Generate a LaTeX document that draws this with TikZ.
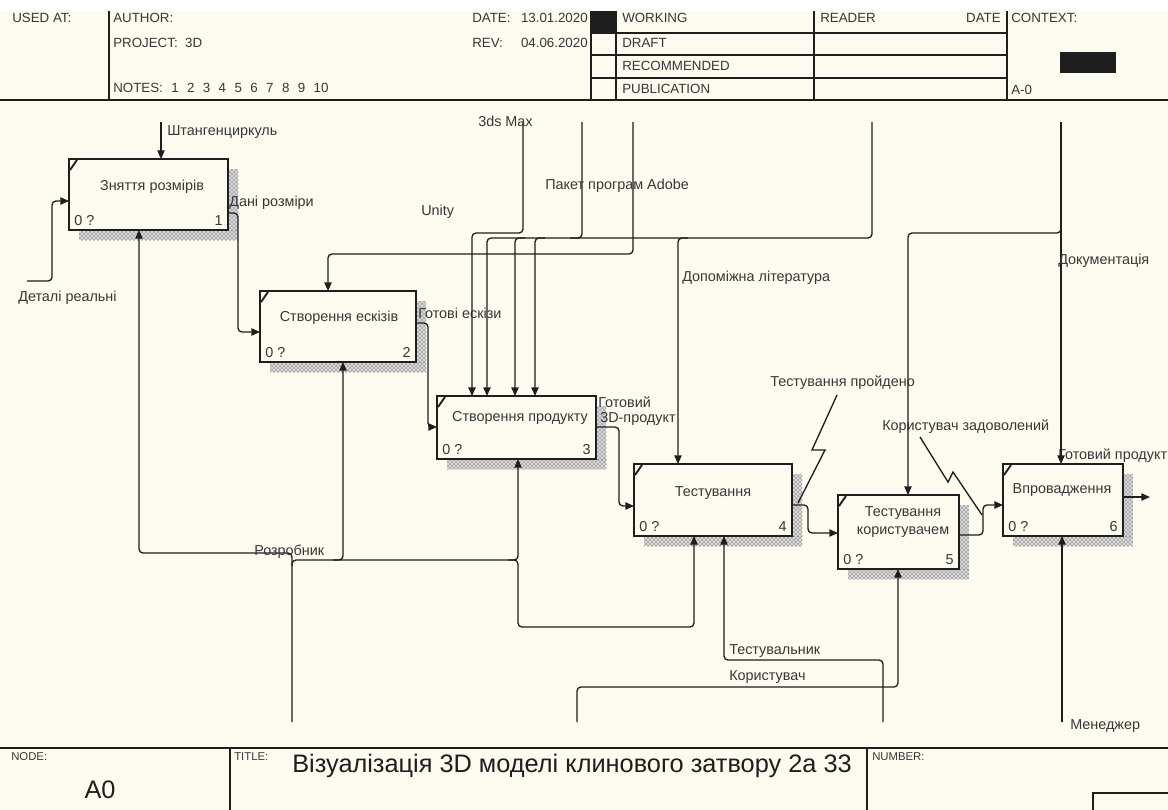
\documentclass[tikz,border=0pt]{standalone}
\usepackage{fontspec}
\setmainfont{Liberation Sans}
\usetikzlibrary{arrows.meta,patterns}
\definecolor{bg}{RGB}{253,250,240}
\definecolor{ink}{RGB}{30,30,30}
\definecolor{txt}{RGB}{55,55,55}
\tikzset{
  lbl/.style={font=\fontsize{10.8}{12}\selectfont, text=txt, inner sep=0pt, anchor=west},
  hdr/.style={font=\fontsize{10}{12}\selectfont, text=txt, inner sep=0pt, anchor=west},
  btxt/.style={font=\fontsize{10.8}{13}\selectfont, text=txt, inner sep=0pt, align=center},
  tiny/.style={font=\fontsize{8.5}{10}\selectfont, text=txt, inner sep=0pt, anchor=north west},
  conn/.style={draw=ink, line width=1pt, rounded corners=3pt},
  arr/.style={conn, -{Triangle[length=6.5pt,width=5.5pt]}},
  boxst/.style={draw=ink, line width=1.9pt, fill=bg, inner sep=0pt, outer sep=0pt, anchor=north west},
  shadbase/.style={fill=gray!30},
  shad/.style={pattern=crosshatch dots, pattern color=ink},
  rule/.style={draw=ink, line width=0.9pt},
}
\newcommand\idefbox[6]{%
  \fill[shadbase] (#2+10,#5) rectangle (#4+10,#5+10);
  \fill[shadbase] (#4,#3+10) rectangle (#4+10,#5);
  \fill[shad] (#2+10,#5) rectangle (#4+10,#5+10);
  \fill[shad] (#4,#3+10) rectangle (#4+10,#5);
  \node[boxst, minimum width={(#4-#2)*0.75pt}, minimum height={(#5-#3)*0.75pt}] (#1) at (#2,#3) {};
  \draw[ink, line width=1.4pt] (#2+1,#3+11) -- (#2+8,#3+1);
  \node[lbl, anchor=base west] (#1-c) at (#2+5,#5-5) {0 ?};
  \node[lbl, anchor=base east] (#1-n) at (#4-5,#5-5) {#6};
}
\newcommand\nsp{\hspace{6.3pt}}
\begin{document}
\begin{tikzpicture}[x=0.75pt,y=-0.75pt]
\path[use as bounding box] (0,0) rectangle (1168,810);
\fill[white] (0,0) rectangle (1168,10);
\fill[bg] (0,10) rectangle (1168,810);

% ---------- header ----------
\draw[rule] (0,100) -- (1168,100);
\draw[rule] (109,11) -- (109,100);
\draw[rule] (591,11) -- (591,100);
\draw[rule] (616,11) -- (616,100);
\draw[rule] (814,11) -- (814,100);
\draw[rule] (1007,11) -- (1007,100);
\foreach \yy in {33,55,78} {\draw[rule] (591,\yy) -- (1007,\yy);}
\fill[ink] (591,11) rectangle (616,33);
\fill[ink] (1060,52) rectangle (1116,73);
\node[hdr] (usedat) at (12,18) {USED AT:};
\node[hdr] (author) at (113,18) {AUTHOR:};
\node[hdr] (project) at (113,43) {PROJECT:\ \ 3D};
\node[hdr] (notes) at (113,88) {NOTES:\nsp 1\nsp 2\nsp 3\nsp 4\nsp 5\nsp 6\nsp 7\nsp 8\nsp 9\nsp 10};
\node[hdr] (datel) at (472,18) {DATE:};
\node[hdr, anchor=east] (datev) at (588,18) {13.01.2020};
\node[hdr] (revl) at (472,43) {REV:};
\node[hdr, anchor=east] (revv) at (588,43) {04.06.2020};
\node[hdr] (working) at (622,18) {WORKING};
\node[hdr] (draft) at (622,43) {DRAFT};
\node[hdr] (recom) at (622,66) {RECOMMENDED};
\node[hdr] (publ) at (622,89) {PUBLICATION};
\node[hdr] (reader) at (820,18) {READER};
\node[hdr, anchor=east] (rdate) at (1001,18) {DATE};
\node[hdr] (context) at (1011,18) {CONTEXT:};
\node[hdr] (a0ctx) at (1011,90) {A-0};

% ---------- footer ----------
\draw[rule] (0,748) -- (1168,748);
\draw[rule] (230,748) -- (230,810);
\draw[rule] (867,748) -- (867,810);
\draw[rule] (1093,810) -- (1093,793) -- (1168,793);
\node[tiny] (nodel) at (11,752) {NODE:};
\node[tiny] (titlel) at (234,752) {TITLE:};
\node[tiny] (numl) at (872,752) {NUMBER:};
\node[font=\fontsize{19}{21}\selectfont, text=ink, inner sep=0pt] (a0) at (100,790) {A0};
\node[font=\fontsize{19}{21}\selectfont, text=ink, inner sep=0pt, anchor=west] (title) at (292,766) {Візуалізація 3D моделі клинового затвору 2а 33};

% ---------- boxes ----------
\idefbox{b1}{69}{159}{228}{230}{1}
\idefbox{b2}{260}{291}{416}{362}{2}
\idefbox{b3}{437}{396}{596}{459}{3}
\idefbox{b4}{634}{464}{792}{536}{4}
\idefbox{b5}{838}{495}{959}{569}{5}
\idefbox{b6}{1003}{464}{1123}{536}{6}
\node[btxt] (t1) at (152,187) {Зняття розмірів};
\node[btxt] (t2) at (339,318) {Створення ескізів};
\node[btxt] (t3) at (520,418) {Створення продукту};
\node[btxt] (t4) at (713,493) {Тестування};
\node[btxt] (t5) at (903,522) {Тестування\\користувачем};
\node[btxt] (t6) at (1062,490) {Впровадження};

% ---------- inputs / outputs ----------
\coordinate (det) at (27,281);
\draw[arr] (det) -- (52,281) -- (52,201) -- (b1.west |- 0,201);
\node[lbl] (ldet) at (18,298) {Деталі реальні};

\draw[arr] (b1.east |- 0,213) -- (238,213) -- (238,332) -- (b2.west |- 0,332);
\node[lbl] (ldan) at (229,203) {Дані розміри};

\draw[arr] (b2.east |- 0,323) -- (428,323) -- (428,427) -- (b3.west |- 0,427);
\node[lbl] (lesk) at (418,313) {Готові ескізи};

\draw[arr] (b3.east |- 0,427) -- (619,427) -- (619,506) -- (b4.west |- 0,506);
\node[lbl] (lgot1) at (598,402) {Готовий};
\node[lbl] (lgot2) at (600,419) {3D-продукт};

\draw[arr] (b4.east |- 0,505) -- (808,505) -- (808,533) -- (b5.west |- 0,533);
\draw[arr] (b5.east |- 0,535) -- (983,535) -- (983,505) -- (b6.west |- 0,505);
\coordinate (out6) at (1150,497);
\draw[arr] (b6.east |- out6) -- (out6);
\node[lbl] (lgp) at (1058,456) {Готовий продукт};

% squiggle labels
\node[lbl] (ltp) at (770,383) {Тестування пройдено};
\draw[conn, rounded corners=0pt] (837,395) -- (812,450) -- (825,450) -- (798,503);
\node[lbl] (lkz) at (882,427) {Користувач задоволений};
\draw[conn, rounded corners=0pt] (920,437) -- (948,482) -- (953,472) -- (982,515);

% ---------- controls ----------
\coordinate (shtang) at (161,122);
\draw[arr] (shtang) -- (shtang |- b1.north);
\node[lbl] (lsht) at (167,132) {Штангенциркуль};

\coordinate (max) at (523,122);
\draw[arr] (max) -- (523,233) -- (472,233) -- (b3.north -| 472,0);
\node[lbl] (lmax) at (478,121) {3ds Max};

\coordinate (lit) at (872,122);
\draw[arr] (lit) -- (872,238) -- (487,238) -- (b3.north -| 487,0);
\coordinate (ad1) at (582,122);
\draw[conn] (ad1) -- (582,238) -- (570,238);
\coordinate (ad2) at (633,122);
\draw[arr] (ad2) -- (633,254) -- (328,254) -- (b2.north -| 328,0);
\draw[arr] (525,238) -- (515,238) -- (b3.north -| 515,0);
\draw[arr] (545,238) -- (535,238) -- (b3.north -| 535,0);
\draw[arr] (688,238) -- (678,238) -- (b4.north -| 678,0);
\node[lbl] (lunity) at (421,212) {Unity};
\node[lbl] (ladobe) at (545,186) {Пакет програм Adobe};
\node[lbl] (llit) at (682,278) {Допоміжна література};

\coordinate (doc) at (1061,122);
\draw[arr] (doc) -- (b6.north -| doc);
\draw[arr] (1061,225) -- (1061,233) -- (908,233) -- (b5.north -| 908,0);
\node[lbl] (ldoc) at (1058,261) {Документація};

% ---------- mechanisms ----------
\coordinate (rozr) at (292,722);
\draw[arr] (rozr) -- (292,560) -- (518,560) -- (b3.south -| 518,0);
\draw[arr] (292,566) -- (292,553) -- (139,553) -- (b1.south -| 139,0);
\draw[arr] (333,560) -- (343,560) -- (b2.south -| 343,0);
\draw[arr] (508,560) -- (518,560) -- (518,627) -- (694,627) -- (b4.south -| 694,0);
\node[lbl] (lrozr) at (254,552) {Розробник};

\coordinate (test) at (883,722);
\draw[arr] (test) -- (883,660) -- (724,660) -- (b4.south -| 724,0);
\node[lbl] (ltest) at (729,651) {Тестувальник};

\coordinate (kor) at (577,722);
\draw[arr] (kor) -- (577,687) -- (898,687) -- (b5.south -| 898,0);
\node[lbl] (lkor) at (729,677) {Користувач};

\coordinate (men) at (1062,722);
\draw[arr] (men) -- (b6.south -| men);
\node[lbl] (lmen) at (1070,726) {Менеджер};
\end{tikzpicture}
\end{document}
